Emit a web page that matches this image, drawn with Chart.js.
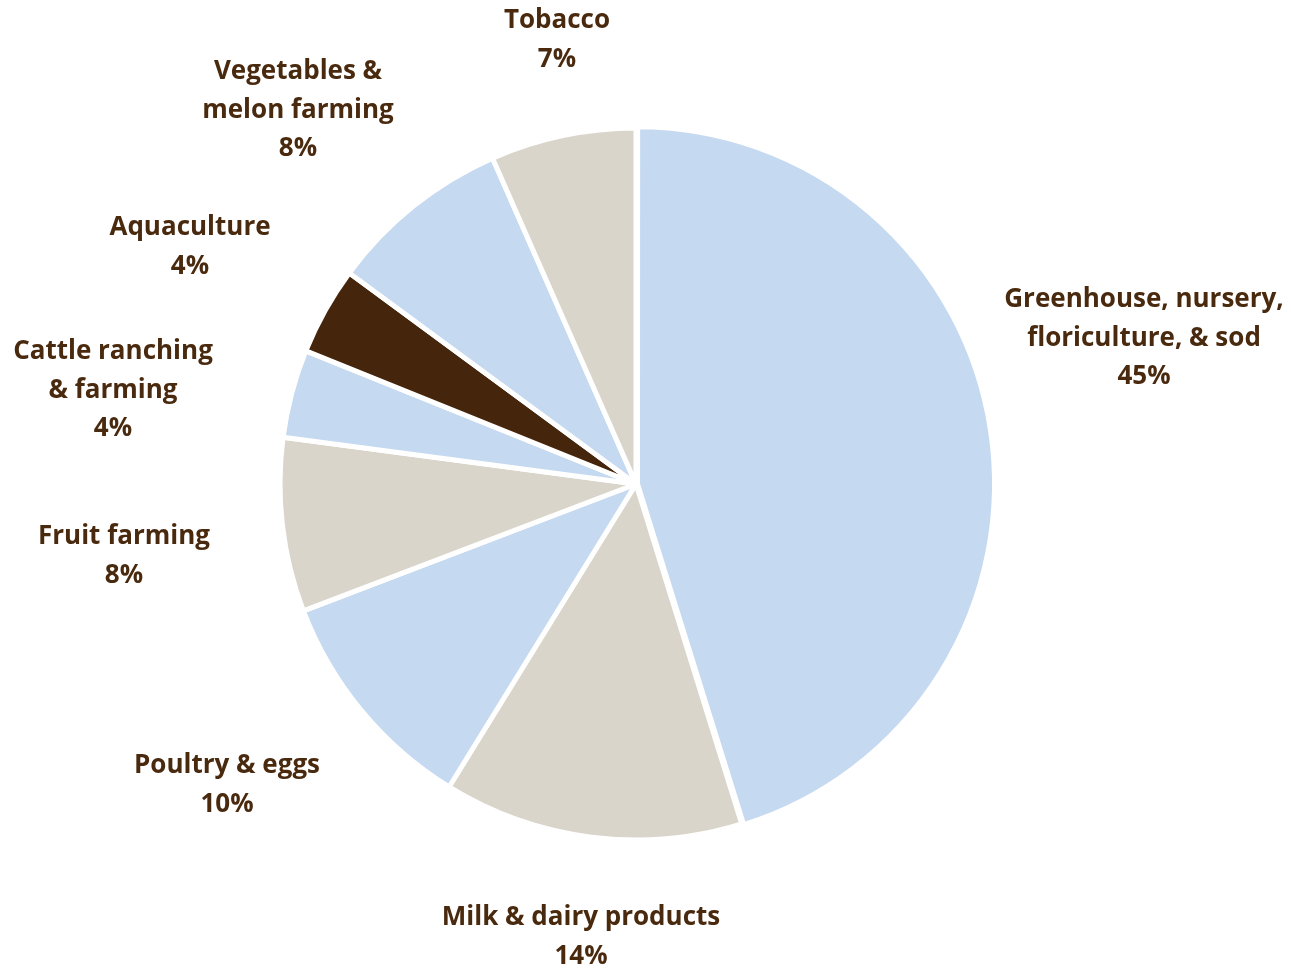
<!DOCTYPE html>
<html>
<head>
<meta charset="utf-8">
<script src="https://cdn.jsdelivr.net/npm/chart.js@4/dist/chart.umd.min.js"></script>
<style>
  html, body { margin: 0; padding: 0; background: #fff; }
  #wrap { width: 1291px; height: 969px; }
</style>
</head>
<body>
<div id="wrap"><canvas id="pie-chart"></canvas></div>
<script>
const categories = [
  "Greenhouse, nursery, floriculture, & sod",
  "Milk & dairy products",
  "Poultry & eggs",
  "Fruit farming",
  "Cattle ranching & farming",
  "Aquaculture",
  "Vegetables & melon farming",
  "Tobacco"
];
// shares in percent
const shares = [45.2, 13.6, 10.4, 7.9, 4.0, 4.0, 8.3, 6.6];

// how each label is broken into lines in the picture
const labelLines = [
  ["Greenhouse, nursery,", "floriculture, & sod"],
  ["Milk & dairy products"],
  ["Poultry & eggs"],
  ["Fruit farming"],
  ["Cattle ranching", "& farming"],
  ["Aquaculture"],
  ["Vegetables &", "melon farming"],
  ["Tobacco"]
];
// label anchor (centre x, first line y)
const labelPos = [
  [1144, 300], [581, 918], [227, 766], [124, 537],
  [113, 352], [190, 228], [298, 72], [557, 21]
];

const blue = "#C5D9F1";
const beige = "#DAD5CA";
const brown = "#45250B";
const sliceColors = [blue, beige, blue, beige, blue, brown, blue, beige];

const labelPlugin = {
  id: "sliceLabels",
  afterDraw(chart) {
    const ctx = chart.ctx;
    ctx.save();
    ctx.fillStyle = "#4A2A0F";
    ctx.font = "bold 26px 'Open Sans', sans-serif";
    ctx.textAlign = "center";
    ctx.textBaseline = "middle";
    const lineH = 38.5;
    categories.forEach((c, i) => {
      const lines = labelLines[i].concat([Math.round(shares[i]) + "%"]);
      const [x, y] = labelPos[i];
      lines.forEach((t, k) => ctx.fillText(t, x, y + k * lineH));
    });
    ctx.restore();
  }
};

const ctx = document.getElementById("pie-chart").getContext("2d");
const chart = new Chart(ctx, {
  type: "pie",
  data: {
    labels: categories,
    datasets: [{
      data: shares,
      backgroundColor: sliceColors,
      borderColor: "#ffffff",
      borderWidth: 5,
      offset: [6, 0, 0, 0, 0, 0, 0, 0]
    }]
  },
  options: {
    responsive: true,
    maintainAspectRatio: false,
    animation: false,
    radius: 356,
    layout: { padding: { left: 0, right: 19, top: 0, bottom: 1 } },
    plugins: {
      legend: { display: false },
      tooltip: { enabled: false }
    }
  },
  plugins: [labelPlugin]
});
</script>
</body>
</html>
